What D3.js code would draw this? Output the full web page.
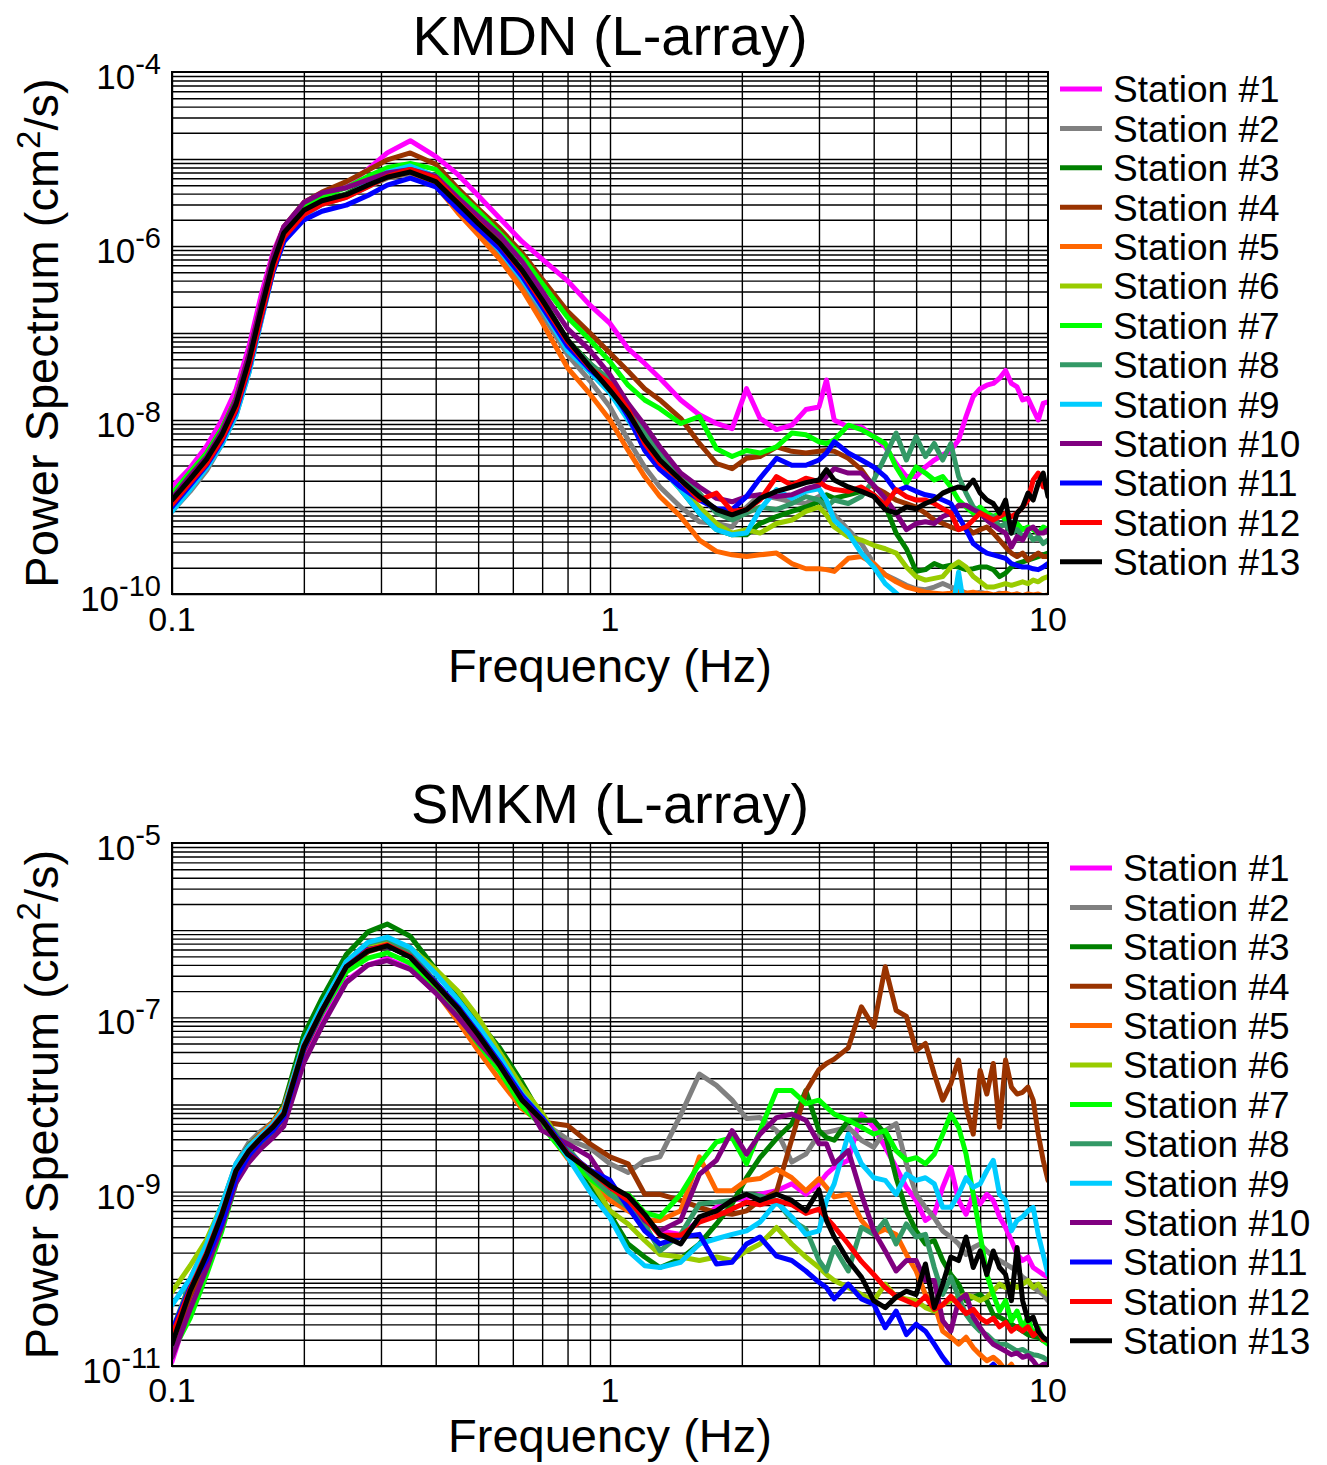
<!DOCTYPE html>
<meta charset="utf-8">
<style>
body { margin: 0; background: #fff; }
svg { display: block; font-family: "Liberation Sans", Arial, Helvetica, sans-serif; }
.grid line { stroke: #000; stroke-width: 1.4px; }
.grid path { display: none; }
.series path { fill: none; stroke-width: 5px; stroke-linejoin: round; stroke-linecap: round; }
</style>
<svg width="1327" height="1465"></svg>
<script src="https://cdn.jsdelivr.net/npm/d3@7"></script>
<script>

// frequency samples (Hz) shared by every curve
var freq = [0.1,0.11,0.12,0.13,0.14,0.15,0.16,0.17,0.18,0.2,0.22,0.25,0.28,0.31,0.35,0.4,0.45,0.5,0.56,0.63,0.7,0.8,0.9,
            1.0,1.1,1.2,1.3,1.45,1.6,1.75,1.9,2.05,2.2,2.4,2.6,2.8,
            3.0,3.12,3.25,3.5,3.75,4.0,4.25,4.5,4.75,5.0,5.25,5.5,5.75,6.0,6.25,6.5,6.75,7.0,7.25,7.5,7.75,8.0,8.25,8.5,8.75,9.0,9.25,9.5,9.75,10];

var stationNames = ["Station #1","Station #2","Station #3","Station #4","Station #5","Station #6","Station #7",
                    "Station #8","Station #9","Station #10","Station #11","Station #12","Station #13"];
var stationColors = ["#ff00ff","#808080","#008000","#993300","#ff6600","#99cc00","#00ff00",
                     "#339966","#00ccff","#800080","#0000ff","#ff0000","#000000"];

// ---- KMDN, log10 of power spectrum (cm^2/s) ----
var kmdn01 = [-8.77,-8.55,-8.30,-8.00,-7.65,-7.15,-6.55,-6.08,-5.78,-5.52,-5.40,-5.30,-5.12,-4.93,-4.79,-4.97,-5.18,-5.42,-5.68,-5.95,-6.15,-6.40,-6.68,
  -6.89,-7.18,-7.35,-7.52,-7.77,-7.94,-8.04,-8.10,-7.64,-7.98,-8.11,-8.06,-7.88,
  -7.85,-7.54,-8.00,-8.08,-8.08,-8.19,-8.31,-8.50,-8.65,-8.65,-8.54,-8.46,-8.40,-8.35,-8.23,-7.96,-7.73,-7.64,-7.60,-7.58,-7.52,-7.43,-7.58,-7.62,-7.77,-7.75,-7.88,-8.00,-7.81,-7.79];
var kmdn02 = [-9.05,-8.82,-8.58,-8.28,-7.95,-7.45,-6.85,-6.30,-5.93,-5.65,-5.52,-5.44,-5.32,-5.22,-5.17,-5.30,-5.60,-5.85,-6.10,-6.42,-6.78,-7.25,-7.55,
  -7.85,-8.23,-8.54,-8.77,-9.00,-9.17,-9.19,-9.23,-9.00,-8.86,-8.90,-8.94,-8.96,
  -8.88,-9.00,-9.09,-9.26,-9.42,-9.65,-9.78,-9.84,-9.90,-9.94,-9.95,-9.92,-9.88,-9.92,-9.95,-9.99,-10.00,-9.98,-10.00,-10.02,-9.99,-10.00,-10.02,-10.00,-10.03,-10.00,-10.02,-10.04,-10.02,-10.03];
var kmdn03 = [-8.95,-8.70,-8.47,-8.19,-7.84,-7.33,-6.74,-6.22,-5.87,-5.60,-5.48,-5.40,-5.28,-5.18,-5.10,-5.20,-5.46,-5.70,-5.95,-6.27,-6.60,-7.08,-7.35,
  -7.58,-7.88,-8.23,-8.50,-8.80,-9.07,-9.26,-9.32,-9.32,-9.19,-9.11,-9.05,-9.00,
  -8.94,-8.86,-8.90,-8.86,-8.82,-8.86,-8.98,-9.30,-9.48,-9.74,-9.72,-9.65,-9.69,-9.67,-9.69,-9.72,-9.71,-9.69,-9.69,-9.72,-9.80,-9.76,-9.69,-9.65,-9.63,-9.61,-9.59,-9.57,-9.55,-9.53];
var kmdn04 = [-8.87,-8.62,-8.38,-8.10,-7.75,-7.24,-6.65,-6.12,-5.78,-5.50,-5.38,-5.26,-5.13,-5.01,-4.93,-5.06,-5.34,-5.57,-5.80,-6.08,-6.38,-6.75,-7.00,
  -7.23,-7.44,-7.64,-7.77,-7.98,-8.27,-8.50,-8.56,-8.44,-8.42,-8.31,-8.36,-8.38,
  -8.36,-8.35,-8.36,-8.44,-8.57,-8.77,-8.84,-8.92,-8.96,-9.00,-9.07,-9.15,-9.19,-9.23,-9.26,-9.23,-9.30,-9.26,-9.23,-9.30,-9.38,-9.46,-9.53,-9.57,-9.53,-9.61,-9.57,-9.53,-9.57,-9.57];
var kmdn05 = [-8.95,-8.70,-8.47,-8.19,-7.84,-7.33,-6.74,-6.22,-5.87,-5.60,-5.49,-5.42,-5.31,-5.21,-5.15,-5.30,-5.62,-5.87,-6.15,-6.50,-6.88,-7.40,-7.70,
  -8.00,-8.35,-8.65,-8.88,-9.11,-9.38,-9.51,-9.55,-9.57,-9.55,-9.53,-9.65,-9.71,
  -9.71,-9.72,-9.74,-9.59,-9.57,-9.65,-9.78,-9.86,-9.92,-9.95,-9.98,-9.99,-10.00,-9.99,-9.97,-9.99,-9.98,-10.00,-9.99,-10.01,-10.00,-9.99,-10.01,-10.00,-10.02,-10.00,-10.01,-10.00,-10.02,-10.01];
var kmdn06 = [-8.98,-8.74,-8.50,-8.22,-7.88,-7.38,-6.80,-6.27,-5.90,-5.63,-5.50,-5.42,-5.30,-5.19,-5.12,-5.22,-5.50,-5.75,-6.00,-6.33,-6.68,-7.15,-7.43,
  -7.66,-7.96,-8.27,-8.54,-8.80,-9.00,-9.19,-9.30,-9.26,-9.30,-9.19,-9.15,-9.05,
  -9.00,-9.09,-9.23,-9.34,-9.38,-9.44,-9.48,-9.53,-9.69,-9.80,-9.84,-9.82,-9.80,-9.69,-9.63,-9.69,-9.80,-9.86,-9.92,-9.92,-9.90,-9.88,-9.90,-9.88,-9.86,-9.88,-9.84,-9.86,-9.82,-9.80];
var kmdn07 = [-8.85,-8.60,-8.38,-8.10,-7.76,-7.26,-6.68,-6.16,-5.82,-5.55,-5.43,-5.33,-5.20,-5.10,-5.05,-5.12,-5.38,-5.60,-5.85,-6.12,-6.43,-6.82,-7.08,
  -7.33,-7.60,-7.77,-7.87,-8.04,-7.96,-8.33,-8.42,-8.35,-8.38,-8.31,-8.15,-8.17,
  -8.25,-8.27,-8.23,-8.06,-8.11,-8.19,-8.27,-8.54,-8.73,-8.54,-8.61,-8.69,-8.65,-8.77,-8.92,-9.00,-9.07,-9.00,-9.07,-9.11,-9.07,-9.15,-9.23,-9.19,-9.26,-9.23,-9.26,-9.30,-9.23,-9.26];
var kmdn08 = [-8.95,-8.70,-8.46,-8.18,-7.83,-7.32,-6.73,-6.21,-5.86,-5.60,-5.49,-5.41,-5.29,-5.20,-5.12,-5.22,-5.48,-5.72,-5.97,-6.30,-6.64,-7.10,-7.35,
  -7.54,-7.85,-8.15,-8.38,-8.65,-8.84,-9.07,-9.15,-9.07,-9.00,-9.03,-8.96,-8.88,
  -8.92,-9.00,-8.92,-8.96,-8.88,-8.69,-8.42,-8.15,-8.46,-8.19,-8.42,-8.27,-8.46,-8.27,-8.65,-8.84,-9.00,-9.07,-9.15,-9.11,-9.23,-9.19,-9.30,-9.26,-9.34,-9.30,-9.38,-9.34,-9.42,-9.38];
var kmdn09 = [-9.05,-8.80,-8.55,-8.28,-7.95,-7.45,-6.85,-6.30,-5.95,-5.65,-5.52,-5.43,-5.28,-5.15,-5.08,-5.20,-5.52,-5.78,-6.05,-6.38,-6.72,-7.20,-7.45,
  -7.69,-8.00,-8.27,-8.54,-8.80,-9.07,-9.26,-9.32,-9.30,-9.03,-8.80,-8.90,-8.82,
  -8.79,-8.92,-9.15,-9.30,-9.53,-9.69,-9.88,-9.99,-10.10,-10.20,-10.30,-10.30,-10.30,-10.30,-9.75,-10.30,-10.30,-10.30,-10.30,-10.30,-10.30,-10.30,-10.30,-10.30,-10.30,-10.30,-10.30,-10.30,-10.30,-10.30];
var kmdn10 = [-8.90,-8.64,-8.42,-8.13,-7.77,-7.25,-6.66,-6.13,-5.78,-5.50,-5.39,-5.33,-5.24,-5.16,-5.12,-5.20,-5.45,-5.66,-5.88,-6.18,-6.52,-6.95,-7.20,
  -7.48,-7.81,-8.06,-8.31,-8.61,-8.77,-8.90,-8.94,-8.88,-8.86,-8.88,-8.86,-8.79,
  -8.75,-8.65,-8.56,-8.61,-8.61,-8.75,-8.90,-9.07,-9.26,-9.19,-9.17,-9.19,-9.11,-9.07,-8.98,-8.98,-9.03,-9.07,-9.15,-9.21,-9.26,-9.30,-9.46,-9.34,-9.38,-9.26,-9.23,-9.30,-9.30,-9.26];
var kmdn11 = [-9.00,-8.75,-8.52,-8.24,-7.90,-7.40,-6.82,-6.30,-5.95,-5.70,-5.60,-5.53,-5.42,-5.30,-5.22,-5.32,-5.58,-5.80,-6.03,-6.35,-6.70,-7.15,-7.42,
  -7.62,-7.96,-8.35,-8.57,-8.77,-8.92,-9.02,-9.03,-8.88,-8.67,-8.44,-8.52,-8.52,
  -8.46,-8.38,-8.25,-8.38,-8.46,-8.54,-8.65,-8.82,-8.77,-8.82,-8.86,-8.88,-8.92,-8.96,-9.11,-9.26,-9.42,-9.48,-9.53,-9.55,-9.57,-9.59,-9.65,-9.67,-9.69,-9.69,-9.71,-9.72,-9.69,-9.65];
var kmdn12 = [-8.97,-8.72,-8.50,-8.22,-7.88,-7.38,-6.80,-6.27,-5.90,-5.64,-5.52,-5.44,-5.32,-5.20,-5.12,-5.22,-5.50,-5.73,-5.97,-6.30,-6.65,-7.10,-7.40,
  -7.58,-7.88,-8.27,-8.50,-8.69,-8.92,-8.84,-9.05,-9.03,-8.92,-8.65,-8.75,-8.67,
  -8.71,-8.77,-8.80,-8.82,-8.77,-8.86,-8.98,-8.80,-8.88,-8.92,-8.92,-8.96,-9.02,-9.07,-9.26,-9.23,-9.15,-9.07,-9.11,-9.15,-9.11,-9.07,-9.11,-9.07,-9.00,-8.92,-8.69,-8.61,-8.77,-8.77];
var kmdn13 = [-8.92,-8.68,-8.45,-8.17,-7.82,-7.31,-6.72,-6.20,-5.85,-5.59,-5.48,-5.41,-5.30,-5.21,-5.15,-5.26,-5.51,-5.74,-5.97,-6.28,-6.62,-7.08,-7.39,
  -7.66,-7.92,-8.23,-8.46,-8.69,-8.88,-9.03,-9.09,-9.03,-8.90,-8.82,-8.77,-8.72,
  -8.69,-8.57,-8.69,-8.77,-8.82,-8.88,-9.03,-9.07,-9.00,-9.02,-8.96,-8.92,-8.84,-8.80,-8.77,-8.79,-8.69,-8.84,-8.92,-8.96,-9.07,-8.92,-9.30,-9.07,-9.00,-8.84,-8.92,-8.73,-8.61,-8.88];

// ---- SMKM, log10 of power spectrum (cm^2/s) ----
var smkm01 = [-10.95,-10.30,-9.80,-9.30,-8.80,-8.56,-8.42,-8.30,-8.16,-7.42,-7.05,-6.58,-6.40,-6.33,-6.44,-6.72,-6.98,-7.26,-7.60,-7.98,-8.22,-8.60,-8.80,
  -9.03,-9.18,-9.33,-9.45,-9.49,-9.33,-9.18,-9.10,-9.07,-9.03,-8.99,-8.91,-9.03,
  -8.91,-8.80,-8.72,-8.64,-8.11,-8.26,-8.49,-8.72,-8.95,-9.10,-9.33,-9.26,-8.95,-8.72,-9.10,-9.26,-9.03,-9.14,-9.03,-9.10,-9.29,-9.41,-9.56,-9.72,-9.79,-9.75,-9.87,-9.91,-9.95,-9.98];
var smkm02 = [-10.70,-10.10,-9.62,-9.15,-8.68,-8.43,-8.30,-8.20,-8.05,-7.30,-6.90,-6.40,-6.20,-6.12,-6.26,-6.60,-6.92,-7.25,-7.60,-7.95,-8.20,-8.40,-8.50,
  -8.68,-8.78,-8.64,-8.60,-8.12,-7.65,-7.78,-7.95,-8.16,-8.15,-8.30,-8.66,-8.57,
  -8.34,-8.32,-8.30,-8.26,-8.41,-8.49,-8.30,-8.22,-8.68,-9.03,-9.18,-9.30,-9.45,-9.52,-9.60,-9.72,-9.64,-9.60,-9.68,-9.75,-9.79,-9.83,-9.87,-9.91,-9.98,-10.02,-10.10,-10.14,-10.18,-10.25];
var smkm03 = [-10.65,-10.05,-9.62,-9.18,-8.70,-8.47,-8.33,-8.20,-8.00,-7.20,-6.78,-6.28,-6.02,-5.93,-6.07,-6.45,-6.78,-7.05,-7.35,-7.75,-8.15,-8.60,-8.95,
  -9.26,-9.60,-9.75,-9.87,-9.77,-9.60,-9.37,-9.14,-8.84,-8.61,-8.39,-8.22,-7.84,
  -8.30,-8.38,-8.41,-8.18,-8.18,-8.18,-8.34,-8.84,-9.22,-9.45,-9.60,-9.56,-9.79,-9.95,-10.06,-10.25,-10.21,-10.18,-10.25,-10.41,-10.44,-10.48,-10.52,-10.56,-10.60,-10.64,-10.66,-10.67,-10.71,-10.71];
var smkm04 = [-10.80,-10.20,-9.80,-9.36,-8.88,-8.63,-8.47,-8.32,-8.15,-7.38,-6.95,-6.45,-6.25,-6.18,-6.30,-6.60,-6.90,-7.20,-7.55,-7.92,-8.20,-8.24,-8.45,
  -8.60,-8.68,-9.03,-9.03,-9.10,-9.18,-9.24,-9.26,-9.22,-9.10,-9.00,-8.40,-7.85,
  -7.60,-7.53,-7.48,-7.35,-6.88,-7.11,-6.42,-6.92,-6.99,-7.38,-7.30,-7.65,-7.95,-7.76,-7.49,-8.03,-8.34,-7.61,-7.88,-7.53,-8.26,-7.49,-7.80,-7.88,-7.86,-7.80,-7.95,-8.34,-8.64,-8.87];
var smkm05 = [-10.80,-10.00,-9.60,-9.20,-8.72,-8.48,-8.33,-8.20,-8.03,-7.30,-6.88,-6.40,-6.20,-6.15,-6.30,-6.70,-7.05,-7.38,-7.72,-8.05,-8.22,-8.62,-8.85,
  -9.10,-9.22,-9.33,-9.33,-9.22,-8.60,-8.99,-8.99,-8.87,-8.85,-8.74,-8.84,-8.99,
  -8.85,-8.95,-9.06,-9.03,-9.33,-9.49,-9.43,-9.49,-9.72,-9.91,-10.18,-10.29,-10.60,-10.67,-10.75,-10.67,-10.79,-10.87,-10.94,-10.90,-10.96,-11.05,-10.98,-11.10,-11.10,-11.10,-11.10,-11.10,-11.10,-11.10];
var smkm06 = [-10.15,-9.85,-9.55,-9.15,-8.70,-8.55,-8.42,-8.28,-8.12,-7.32,-6.88,-6.38,-6.17,-6.10,-6.20,-6.45,-6.70,-7.00,-7.40,-7.80,-8.10,-8.55,-8.85,
  -9.22,-9.37,-9.56,-9.72,-9.75,-9.79,-9.75,-9.79,-9.68,-9.60,-9.41,-9.60,-9.75,
  -9.87,-9.95,-10.02,-10.10,-10.18,-10.25,-10.06,-10.21,-10.23,-10.25,-10.33,-10.37,-10.29,-10.25,-10.21,-10.18,-10.21,-10.25,-10.21,-10.14,-10.06,-10.10,-10.06,-10.10,-10.06,-10.02,-10.10,-10.06,-10.14,-10.18];
var smkm07 = [-10.85,-10.45,-9.95,-9.45,-8.90,-8.60,-8.43,-8.30,-8.12,-7.35,-6.95,-6.48,-6.32,-6.26,-6.38,-6.70,-6.98,-7.30,-7.62,-8.02,-8.25,-8.60,-8.85,
  -9.03,-9.03,-9.24,-9.29,-9.03,-8.68,-8.43,-8.38,-8.68,-8.30,-7.84,-7.84,-7.99,
  -7.95,-8.03,-8.11,-8.18,-8.26,-8.34,-8.30,-8.53,-8.64,-8.61,-8.68,-8.57,-8.34,-8.11,-8.26,-8.57,-9.03,-9.49,-9.95,-10.18,-10.37,-10.25,-10.48,-10.37,-10.56,-10.44,-10.64,-10.56,-10.71,-10.75];
var smkm08 = [-10.60,-10.05,-9.70,-9.30,-8.80,-8.56,-8.40,-8.27,-8.10,-7.30,-6.88,-6.36,-6.15,-6.10,-6.25,-6.60,-6.92,-7.22,-7.55,-7.92,-8.15,-8.50,-8.80,
  -9.03,-9.18,-9.37,-9.68,-9.49,-9.14,-9.12,-9.10,-9.03,-9.05,-9.10,-9.33,-9.43,
  -9.79,-9.91,-9.64,-9.91,-9.41,-9.49,-9.33,-9.60,-9.37,-9.52,-9.49,-9.87,-10.18,-9.98,-10.21,-10.41,-10.52,-10.60,-10.64,-10.71,-10.75,-10.75,-10.79,-10.83,-10.81,-10.85,-10.87,-10.88,-10.90,-10.94];
var smkm09 = [-10.30,-10.00,-9.60,-9.15,-8.68,-8.48,-8.35,-8.22,-8.06,-7.28,-6.86,-6.36,-6.14,-6.08,-6.20,-6.50,-6.80,-7.10,-7.45,-7.88,-8.15,-8.60,-9.00,
  -9.30,-9.68,-9.85,-9.87,-9.81,-9.60,-9.54,-9.49,-9.45,-9.35,-9.12,-9.29,-9.49,
  -9.45,-9.10,-8.91,-8.34,-8.68,-8.84,-8.87,-9.03,-8.80,-8.87,-8.84,-8.91,-9.18,-9.18,-9.03,-8.84,-8.95,-8.91,-8.76,-8.64,-9.03,-9.10,-9.45,-9.33,-9.29,-9.22,-9.18,-9.49,-9.72,-9.95];
var smkm10 = [-10.90,-10.35,-9.88,-9.40,-8.90,-8.66,-8.50,-8.38,-8.25,-7.52,-7.10,-6.60,-6.40,-6.35,-6.45,-6.72,-7.00,-7.28,-7.55,-7.90,-8.30,-8.45,-8.60,
  -8.95,-9.07,-9.33,-9.45,-9.33,-8.80,-8.64,-8.30,-8.57,-8.34,-8.15,-8.11,-8.18,
  -8.45,-8.45,-8.68,-8.53,-9.03,-9.45,-9.68,-9.91,-9.79,-9.79,-10.02,-10.02,-10.48,-10.60,-10.25,-10.18,-10.44,-10.56,-10.67,-10.75,-10.79,-10.83,-10.87,-10.85,-10.90,-10.88,-10.94,-11.02,-10.98,-10.98];
var smkm11 = [-10.60,-10.10,-9.78,-9.36,-8.84,-8.58,-8.42,-8.30,-8.14,-7.36,-6.93,-6.42,-6.22,-6.18,-6.30,-6.60,-6.88,-7.18,-7.52,-7.90,-8.15,-8.55,-8.75,
  -8.87,-9.18,-9.45,-9.60,-9.52,-9.49,-9.83,-9.81,-9.60,-9.52,-9.74,-9.79,-9.91,
  -10.04,-10.10,-10.23,-10.06,-10.23,-10.29,-10.56,-10.37,-10.64,-10.52,-10.60,-10.75,-10.90,-11.02,-11.10,-11.10,-11.10,-11.10,-11.05,-10.98,-11.05,-11.10,-11.10,-11.10,-11.10,-11.10,-11.10,-11.10,-11.10,-11.10];
var smkm12 = [-10.65,-10.12,-9.70,-9.25,-8.76,-8.53,-8.38,-8.25,-8.10,-7.33,-6.92,-6.42,-6.23,-6.17,-6.30,-6.62,-6.90,-7.20,-7.55,-7.95,-8.18,-8.56,-8.76,
  -8.95,-9.10,-9.30,-9.50,-9.50,-9.35,-9.28,-9.20,-9.12,-9.15,-9.10,-9.15,-9.25,
  -9.20,-9.30,-9.40,-9.60,-9.80,-9.95,-10.10,-10.20,-10.25,-10.30,-10.20,-10.35,-10.30,-10.20,-10.30,-10.40,-10.35,-10.45,-10.50,-10.45,-10.55,-10.50,-10.60,-10.55,-10.60,-10.55,-10.65,-10.60,-10.70,-10.70];
var smkm13 = [-10.75,-10.14,-9.72,-9.26,-8.76,-8.53,-8.38,-8.26,-8.11,-7.34,-6.92,-6.42,-6.24,-6.18,-6.31,-6.62,-6.90,-7.20,-7.55,-7.95,-8.18,-8.57,-8.76,
  -8.93,-9.05,-9.26,-9.49,-9.60,-9.29,-9.22,-9.10,-9.03,-9.10,-9.03,-9.10,-9.22,
  -8.98,-9.33,-9.52,-9.79,-9.98,-10.25,-10.33,-10.21,-10.14,-10.18,-9.83,-10.33,-10.06,-9.75,-9.79,-9.52,-9.87,-9.68,-9.95,-9.68,-9.87,-9.95,-10.25,-9.64,-10.25,-10.48,-10.44,-10.60,-10.67,-10.71];

var kmdnSeries = [kmdn01,kmdn02,kmdn03,kmdn04,kmdn05,kmdn06,kmdn07,kmdn08,kmdn09,kmdn10,kmdn11,kmdn12,kmdn13];
var smkmSeries = [smkm01,smkm02,smkm03,smkm04,smkm05,smkm06,smkm07,smkm08,smkm09,smkm10,smkm11,smkm12,smkm13];

kmdnSeries.concat(smkmSeries).forEach(function(s, i) {
  if (s.length != freq.length) throw new Error("series " + i + " has " + s.length + " values, expected " + freq.length);
});

var svg = d3.select("svg");
var plotLeft = 172, plotRight = 1048;

function drawPanel(p) {
  var x = d3.scaleLog().domain([0.1, 10]).range([plotLeft, plotRight]);
  var y = d3.scaleLog().domain([p.yMin, p.yMax]).range([p.bottom, p.top]);
  var g = svg.append("g");

  // grid: every 1..9 x decade on both axes
  var gridX = [], gridY = [];
  [0.1, 1].forEach(function(d) { for (var k = 1; k <= 9; k++) gridX.push(k * d); });
  for (var e = Math.round(Math.log10(p.yMin)); e < Math.round(Math.log10(p.yMax)); e++)
    for (var k = 1; k <= 9; k++) gridY.push(k * Math.pow(10, e));

  g.append("g").attr("class", "grid")
    .attr("transform", "translate(0," + p.bottom + ")")
    .call(d3.axisBottom(x).tickValues(gridX).tickSize(-(p.bottom - p.top)).tickFormat(""));
  g.append("g").attr("class", "grid")
    .attr("transform", "translate(" + plotLeft + ",0)")
    .call(d3.axisLeft(y).tickValues(gridY).tickSize(-(plotRight - plotLeft)).tickFormat(""));

  svg.append("clipPath").attr("id", p.clip)
    .append("rect").attr("x", plotLeft).attr("y", p.top)
    .attr("width", plotRight - plotLeft).attr("height", p.bottom - p.top);

  var line = d3.line()
    .x(function(d, i) { return x(freq[i]); })
    .y(function(d) { return y(Math.pow(10, d)); });

  g.append("g").attr("class", "series").attr("clip-path", "url(#" + p.clip + ")")
    .selectAll("path").data(p.series).enter().append("path")
    .attr("stroke", function(d, i) { return stationColors[i]; })
    .attr("d", line);

  g.append("rect").attr("x", plotLeft).attr("y", p.top)
    .attr("width", plotRight - plotLeft).attr("height", p.bottom - p.top)
    .attr("fill", "none").attr("stroke", "#000").attr("stroke-width", 2);

  // x tick labels
  g.selectAll(".xlab").data([0.1, 1, 10]).enter().append("text")
    .attr("x", function(d) { return x(d); })
    .attr("y", p.tickY)
    .attr("text-anchor", "middle")
    .attr("font-size", "34px")
    .text(function(d) { return d; });

  // y tick labels as 10^n
  var yl = g.selectAll(".ylab").data(p.yLabels).enter().append("text")
    .attr("x", 161)
    .attr("y", function(d) { return y(Math.pow(10, d)) + 17; })
    .attr("text-anchor", "end")
    .attr("font-size", "35px");
  yl.append("tspan").text("10");
  yl.append("tspan").attr("dy", -15).attr("font-size", "29px").text(function(d) { return d; });

  g.append("text")
    .attr("x", (plotLeft + plotRight) / 2).attr("y", p.titleY)
    .attr("text-anchor", "middle").attr("font-size", "56px")
    .text(p.title);

  g.append("text")
    .attr("x", (plotLeft + plotRight) / 2).attr("y", p.xTitleY)
    .attr("text-anchor", "middle").attr("font-size", "47px")
    .text("Frequency (Hz)");

  var yt = g.append("text")
    .attr("transform", "translate(58," + ((p.top + p.bottom) / 2) + ") rotate(-90)")
    .attr("text-anchor", "middle").attr("font-size", "47px");
  yt.append("tspan").text("Power Spectrum (cm");
  yt.append("tspan").attr("dy", -18).attr("font-size", "33px").text("2");
  yt.append("tspan").attr("dy", 18).text("/s)");

  // legend
  var leg = g.selectAll(".leg").data(stationNames).enter().append("g")
    .attr("transform", function(d, i) { return "translate(" + p.legendX + "," + (p.legendY + i * 39.4) + ")"; });
  leg.append("line").attr("x1", 0).attr("x2", 42)
    .attr("stroke", function(d, i) { return stationColors[i]; })
    .attr("stroke-width", 5);
  leg.append("text").attr("x", 53).attr("dy", "0.36em")
    .attr("font-size", "37px").text(function(d) { return d; });
}

drawPanel({ title: "KMDN (L-array)", top: 72, bottom: 594, yMin: 1e-10, yMax: 1e-4,
  yLabels: [-4, -6, -8, -10], series: kmdnSeries, titleY: 55, tickY: 631, xTitleY: 682,
  legendX: 1060, legendY: 89, clip: "clipTop" });
drawPanel({ title: "SMKM (L-array)", top: 843, bottom: 1366, yMin: 1e-11, yMax: 1e-5,
  yLabels: [-5, -7, -9, -11], series: smkmSeries, titleY: 823, tickY: 1402, xTitleY: 1452,
  legendX: 1070, legendY: 868, clip: "clipBot" });

</script>
